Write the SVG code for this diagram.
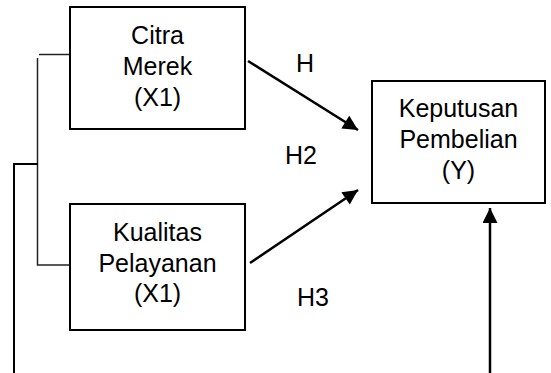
<svg xmlns="http://www.w3.org/2000/svg" width="551" height="373" viewBox="0 0 551 373">
<style>
.box{fill:#fff;stroke:#000;stroke-width:2}
.t{font-family:"Liberation Sans",Arial,sans-serif;font-size:25px;fill:#000;text-anchor:middle}
.ln{fill:none;stroke:#000;stroke-width:2}
.ar{fill:none;stroke:#000;stroke-width:2.5}
.thin{fill:none;stroke:#222;stroke-width:1.5}
</style>
<defs>
<marker id="ah" viewBox="0 0 10 10" refX="10" refY="5" markerWidth="16" markerHeight="15" markerUnits="userSpaceOnUse" orient="auto">
<path d="M0,0 L10,5 L0,10 Z" fill="#000"/>
</marker>
</defs>
<rect width="551" height="373" fill="#fff"/>
<g id="connectors">
<polyline class="thin" points="70,54.5 39,54.5"/>
<polyline class="thin" points="37.5,58 37.5,265 70,265"/>
<polyline class="ln" points="14,373 14,164 38,164"/>
<line class="ar" x1="248" y1="61" x2="358" y2="130" marker-end="url(#ah)"/>
<line class="ar" x1="250" y1="263" x2="358" y2="190" marker-end="url(#ah)"/>
<line class="ar" x1="490" y1="373" x2="490" y2="208" marker-end="url(#ah)"/>
</g>
<g id="citra">
<rect class="box" x="70" y="7" width="175" height="122"/>
<text class="t" x="157.5" y="44">Citra</text>
<text class="t" x="157.5" y="75">Merek</text>
<text class="t" x="157.5" y="106">(X1)</text>
</g>
<g id="kualitas">
<rect class="box" x="70" y="204" width="175" height="126"/>
<text class="t" x="157.5" y="241">Kualitas</text>
<text class="t" x="157.5" y="272">Pelayanan</text>
<text class="t" x="157.5" y="302">(X1)</text>
</g>
<g id="keputusan">
<rect class="box" x="372" y="81" width="173" height="122"/>
<text class="t" x="458.5" y="117">Keputusan</text>
<text class="t" x="458.5" y="148">Pembelian</text>
<text class="t" x="458.5" y="179">(Y)</text>
</g>
<g id="labels">
<text class="t" x="305" y="72">H</text>
<text class="t" x="301" y="164">H2</text>
<text class="t" x="313" y="306">H3</text>
</g>
</svg>
